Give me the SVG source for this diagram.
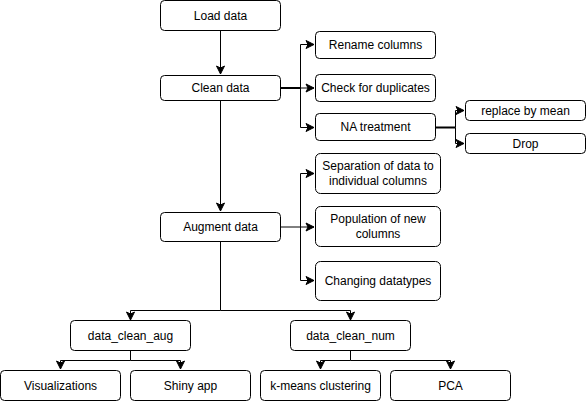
<svg xmlns="http://www.w3.org/2000/svg" width="586" height="401" viewBox="0 0 586 401">
<defs>
<marker id="arr" markerWidth="10" markerHeight="10" viewBox="0 0 10 10" refX="9" refY="5" orient="auto" markerUnits="userSpaceOnUse">
<path d="M1,1 L9,5 L1,9 L3,5 Z" fill="#000" stroke="#000" stroke-width="1"/>
</marker>
<style>
.n rect{fill:#fff;stroke:#000;stroke-width:1}
.n text{font-family:"Liberation Sans",Arial,sans-serif;font-size:12px;fill:#000;text-anchor:middle}
.c path{fill:none;stroke:#000;stroke-width:1}
.c .a{marker-end:url(#arr)}
.c .t{stroke-width:2}
</style>
</defs>
<rect x="0" y="0" width="586" height="401" fill="#fff"/>
<g class="c">
<path class="a" d="M220.5,30 V74"/>
<path d="M220.5,100 V160"/>
<path class="a" d="M220.5,160 V211"/>
<path class="t" d="M280,88 H300.5"/>
<path class="a" d="M300.5,88 V44.5 H314"/>
<path class="a" d="M280,88 H314"/>
<path class="a" d="M300.5,88 V127.5 H314"/>
<path class="t" d="M435,127.5 H455.5"/>
<path class="a" d="M455.5,127.5 V110.5 H464"/>
<path class="a" d="M455.5,127.5 V143.5 H464"/>
<path class="a" d="M280,227 H314"/>
<path class="a" d="M300.5,227 V173.5 H314"/>
<path class="a" d="M300.5,227 V280.5 H314"/>
<path d="M220.5,241 V310.5"/>
<path class="a" d="M220.5,310.5 H130.5 V320"/>
<path class="a" d="M220.5,310.5 H350.5 V320"/>
<path class="a" d="M130.5,350 V360.5 H60.5 V369"/>
<path class="a" d="M130.5,360.5 H180.5 V369"/>
<path class="a" d="M350.5,350 V360.5 H320.5 V369"/>
<path class="a" d="M350.5,360.5 H450.5 V369"/>
</g>
<g id="load" class="n"><rect x="160.5" y="0.5" width="120" height="30" rx="4"/><text x="220.5" y="20">Load data</text></g>
<g id="clean" class="n"><rect x="160.5" y="75.5" width="120" height="25" rx="4"/><text x="220.5" y="92">Clean data</text></g>
<g id="rename" class="n"><rect x="315.5" y="31.5" width="120" height="27" rx="4"/><text x="375.5" y="49">Rename columns</text></g>
<g id="dup" class="n"><rect x="315.5" y="74.5" width="120" height="27" rx="4"/><text x="375.5" y="92">Check for duplicates</text></g>
<g id="na" class="n"><rect x="315.5" y="113.5" width="120" height="27" rx="4"/><text x="375.5" y="131">NA treatment</text></g>
<g id="mean" class="n"><rect x="465.5" y="100.5" width="120" height="20" rx="4"/><text x="525.5" y="115">replace by mean</text></g>
<g id="drop" class="n"><rect x="465.5" y="133.5" width="120" height="20" rx="4"/><text x="525.5" y="148">Drop</text></g>
<g id="augment" class="n"><rect x="160.5" y="212.5" width="120" height="29" rx="4"/><text x="220.5" y="231">Augment data</text></g>
<g id="sep" class="n"><rect x="315.5" y="153.5" width="125" height="40" rx="5"/><text x="378" y="170">Separation of data to</text><text x="378" y="185">individual columns</text></g>
<g id="pop" class="n"><rect x="315.5" y="206.5" width="125" height="40" rx="5"/><text x="378" y="223">Population of new</text><text x="378" y="238">columns</text></g>
<g id="types" class="n"><rect x="315.5" y="261.5" width="125" height="39" rx="5"/><text x="378" y="285">Changing datatypes</text></g>
<g id="aug" class="n"><rect x="70.5" y="320.5" width="120" height="30" rx="4"/><text x="130.5" y="340">data_clean_aug</text></g>
<g id="num" class="n"><rect x="290.5" y="320.5" width="120" height="30" rx="4"/><text x="350.5" y="340">data_clean_num</text></g>
<g id="vis" class="n"><rect x="0.5" y="370.5" width="120" height="30" rx="4"/><text x="60.5" y="390">Visualizations</text></g>
<g id="shiny" class="n"><rect x="130.5" y="370.5" width="120" height="30" rx="4"/><text x="190.5" y="390">Shiny app</text></g>
<g id="kmeans" class="n"><rect x="260.5" y="370.5" width="120" height="30" rx="4"/><text x="320.5" y="390">k-means clustering</text></g>
<g id="pca" class="n"><rect x="390.5" y="370.5" width="120" height="30" rx="4"/><text x="450.5" y="390">PCA</text></g>
</svg>
